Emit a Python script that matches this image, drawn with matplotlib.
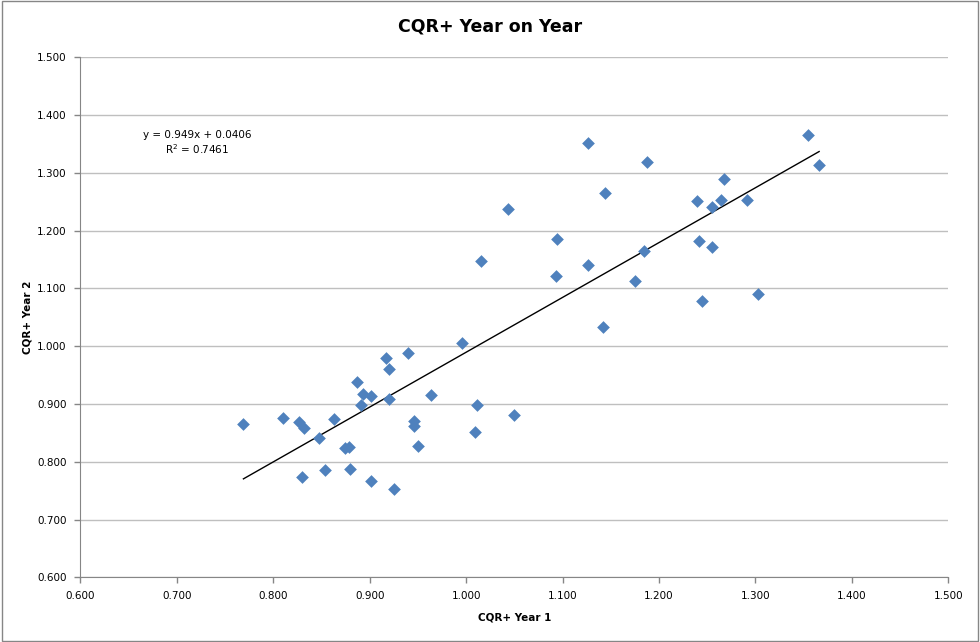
import numpy as np
import matplotlib
matplotlib.use("Agg")
from matplotlib import pyplot as plt
from matplotlib.patches import Rectangle

# CQR+ values, year 1 vs year 2
year1 = [0.769, 0.810, 0.827, 0.832, 0.830, 0.847, 0.854, 0.863, 0.874, 0.878,
         0.879, 0.887, 0.891, 0.893, 0.901, 0.901, 0.917, 0.920, 0.940, 0.920,
         0.964, 0.996, 1.011, 0.946, 0.946, 1.009, 1.050, 0.950, 0.925, 1.126,
         1.188, 1.354, 1.366, 1.267, 1.144, 1.239, 1.255, 1.264, 1.291, 1.043,
         1.094, 1.015, 1.241, 1.255, 1.093, 1.126, 1.184, 1.175, 1.303, 1.245,
         1.142]
year2 = [0.866, 0.875, 0.869, 0.859, 0.773, 0.841, 0.785, 0.874, 0.823, 0.825,
         0.787, 0.938, 0.899, 0.917, 0.913, 0.766, 0.979, 0.960, 0.989, 0.909,
         0.915, 1.005, 0.898, 0.871, 0.861, 0.851, 0.881, 0.827, 0.753, 1.351,
         1.318, 1.365, 1.313, 1.289, 1.265, 1.251, 1.241, 1.253, 1.253, 1.237,
         1.185, 1.147, 1.182, 1.171, 1.122, 1.140, 1.164, 1.112, 1.090, 1.078,
         1.033]

slope = 0.949
intercept = 0.0406
r2 = 0.7461

ticks = np.arange(0.6, 1.5001, 0.1)
tick_labels = ["%.3f" % t for t in ticks]

fig = plt.figure(figsize=(9.8, 6.42), dpi=100)
ax = fig.add_axes([0.0821, 0.1008, 0.8856, 0.8099])

ax.scatter(year1, year2, marker="D", s=42, color="#4F81BD", linewidths=0, zorder=3)

xs = np.array([min(year1), max(year1)])
ax.plot(xs, slope * xs + intercept, color="black", lw=1.0, zorder=2)

ax.set_xlim(0.6, 1.5)
ax.set_ylim(0.6, 1.5)
ax.set_xticks(ticks, tick_labels)
ax.set_yticks(ticks, tick_labels)
ax.tick_params(labelsize=7.5, color="#868686", length=4, width=1, pad=6)
ax.yaxis.grid(True, color="#BFBFBF", lw=1)
ax.set_axisbelow(True)
for side in ["top", "right"]:
    ax.spines[side].set_visible(False)
for side in ["left", "bottom"]:
    ax.spines[side].set_color("#868686")

ax.set_xlabel("CQR+ Year 1", fontsize=7.5, fontweight="bold", labelpad=8)
ax.set_ylabel("CQR+ Year 2", fontsize=7.5, fontweight="bold", labelpad=3)

ax.text(0.134, 0.835, "y = %.3fx + %.4f\nR$^2$ = %.4f" % (slope, intercept, r2),
        transform=ax.transAxes, fontsize=7.5, ha="center", va="center",
        linespacing=1.25)

fig.text(0.5, 0.958, "CQR+ Year on Year", fontsize=12.5, fontweight="bold",
         ha="center", va="center")

fig.patches.append(Rectangle((0.002, 0.002), 0.996, 0.996, transform=fig.transFigure,
                             fill=False, edgecolor="#868686", lw=1))

fig.savefig("out.png", dpi=100)
